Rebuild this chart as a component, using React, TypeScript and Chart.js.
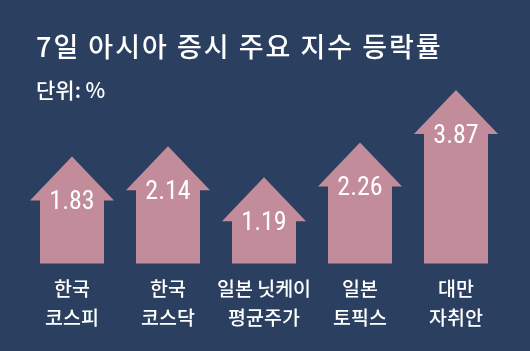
import React, { useEffect, useRef } from "react";
import { Chart, registerables } from "chart.js";

Chart.register(...registerables);

const TITLE = "7일 아시아 증시 주요 지수 등락률";
const SUBTITLE = "단위: %";
const categories: string[][] = [
  ["한국", "코스피"],
  ["한국", "코스닥"],
  ["일본 닛케이", "평균주가"],
  ["일본", "토픽스"],
  ["대만", "자취안"],
];
const values: number[] = [1.83, 2.14, 1.19, 2.26, 3.87];
const valueLabels: string[] = ["1.83", "2.14", "1.19", "2.26", "3.87"];

const BG = "#2b4060";
const BAR = "#c28c9b";

const arrowPlugin = {
  id: "arrowPlugin",
  beforeDraw(chart: any) {
    const { ctx, width, height } = chart;
    ctx.save();
    ctx.fillStyle = BG;
    ctx.fillRect(0, 0, width, height);
    ctx.fillStyle = "#ffffff";
    ctx.textBaseline = "alphabetic";
    ctx.textAlign = "left";
    ctx.font = "500 27px 'Noto Sans CJK KR'";
    (ctx as any).letterSpacing = "2px";
    ctx.fillText(TITLE, 36, 57);
    ctx.font = "500 21px 'Noto Sans CJK KR'";
    (ctx as any).letterSpacing = "0px";
    ctx.fillText(SUBTITLE, 36, 98);
    ctx.restore();
  },
  afterDatasetsDraw(chart: any) {
    const { ctx } = chart;
    const meta = chart.getDatasetMeta(0);
    ctx.save();
    meta.data.forEach((bar: any, i: number) => {
      const p = bar.getProps(["x", "y", "base", "width"], true);
      const half = p.width / 2;
      const headHalf = half + 10;
      const headH = 44;
      ctx.fillStyle = BAR;
      ctx.beginPath();
      ctx.moveTo(p.x, p.y);
      ctx.lineTo(p.x + headHalf, p.y + headH);
      ctx.lineTo(p.x + half, p.y + headH);
      ctx.lineTo(p.x + half, p.base);
      ctx.lineTo(p.x - half, p.base);
      ctx.lineTo(p.x - half, p.y + headH);
      ctx.lineTo(p.x - headHalf, p.y + headH);
      ctx.closePath();
      ctx.fill();
      ctx.fillStyle = "#ffffff";
      ctx.textAlign = "center";
      ctx.textBaseline = "middle";
      ctx.font = "26px 'Roboto Condensed', 'DejaVu Sans Condensed', sans-serif";
      ctx.fillText(valueLabels[i], p.x, p.y + 46);
    });
    ctx.restore();
  },
};

export default function App() {
  const ref = useRef<HTMLCanvasElement | null>(null);
  useEffect(() => {
    if (!ref.current) return;
    const chart = new Chart(ref.current, {
      type: "bar",
      data: {
        labels: categories,
        datasets: [
          {
            data: values,
            backgroundColor: "rgba(0,0,0,0)",
            borderWidth: 0,
            base: -1.46,
            categoryPercentage: 1,
            barPercentage: 0.667,
          } as any,
        ],
      },
      options: {
        animation: false,
        responsive: false,
        maintainAspectRatio: false,
        layout: { padding: { left: 24, right: 26, top: 80, bottom: 9 } },
        plugins: { legend: { display: false }, tooltip: { enabled: false } },
        scales: {
          x: {
            grid: { display: false, drawTicks: false },
            border: { display: false },
            ticks: {
              color: "#ffffff",
              padding: 10,
              maxRotation: 0,
              minRotation: 0,
              autoSkip: false,
              font: { family: "'Noto Sans CJK KR'", size: 19.5, weight: 500 as any, lineHeight: 1.5 },
            },
          },
          y: { display: false, min: -1.46, max: 4.18 },
        },
      },
      plugins: [arrowPlugin],
    });
    return () => chart.destroy();
  }, []);
  return (
    <div style={{ position: "absolute", left: 0, top: 0, width: 530, height: 351 }}>
      <canvas ref={ref} width={530} height={351} style={{ display: "block" }} />
    </div>
  );
}
